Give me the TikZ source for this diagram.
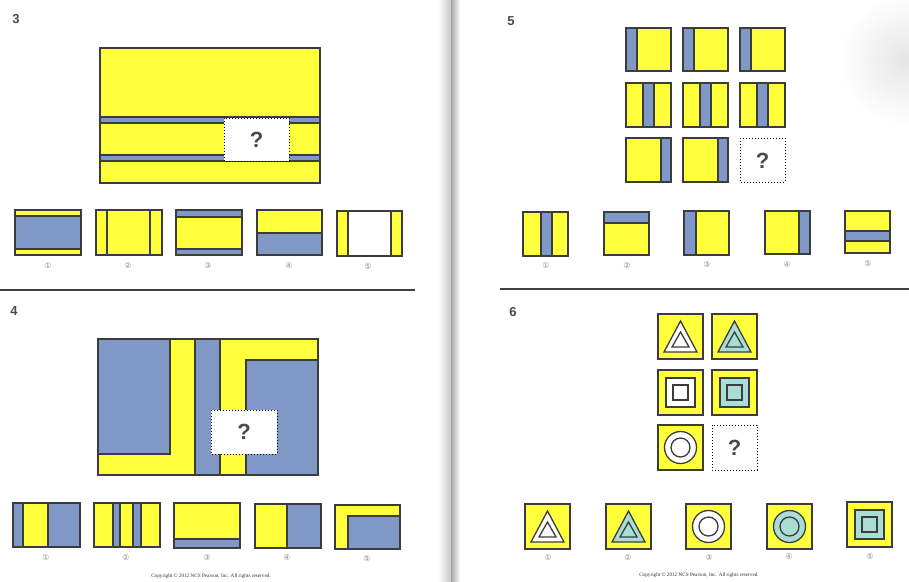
\documentclass[tikz,border=0pt]{standalone}
\usepackage{fontspec}
\setmainfont{Liberation Serif}
\newfontfamily\qfont{Liberation Sans}
\newfontfamily\symfont{DejaVu Sans}
\definecolor{py}{HTML}{FFFF3C}
\definecolor{pb}{HTML}{7F98C6}
\definecolor{pt}{HTML}{A8DED5}
\definecolor{edge}{HTML}{3C3C3C}
\definecolor{qgray}{HTML}{4A4A4A}
\tikzset{
  fig/.style={draw=edge, line width=1.3pt, line join=miter},
  yel/.style={fig, fill=py},
  blu/.style={fig, fill=pb},
  qbox/.style={draw=black, dotted, line width=1pt, fill=white},
  qmark/.style={font=\qfont\bfseries\fontsize{22}{22}\selectfont, text=qgray},
  optlabel/.style={font=\symfont\fontsize{8}{8}\selectfont, text=black!45},
  pnum/.style={font=\qfont\bfseries\fontsize{13}{13}\selectfont, text=qgray},
  copy/.style={font=\fontsize{5.2}{6}\selectfont, text=black!80},
  sepline/.style={draw=black!75, line width=1.6pt}
}
\begin{document}
\begin{tikzpicture}[x=1pt,y=-1pt]
\useasboundingbox (0,0) rectangle (909,581);
\fill[white] (0,0) rectangle (909,581);
% page gutter and scan shading
\shade[left color=white, right color=black!22] (438,0) rectangle (451,581);
\shade[left color=black!35, right color=white] (451,0) rectangle (460,581);
\shade[inner color=black!10, outer color=white] (905,60) circle (65);

% ---------------- Puzzle 3 ----------------
\node[pnum] (n3) at (16,19) {3};
\draw[yel] (100,48) rectangle (320,183);
\draw[blu] (100,117) rectangle (320,123);
\draw[blu] (100,155) rectangle (320,161);
\draw[fig] (100,48) rectangle (320,183);
\draw[qbox] (224,118) rectangle (289,161);
\node[qmark] (q3) at (256.5,140) {?};
% options
\draw[blu] (15,210) rectangle (81,255);
\draw[yel] (15,210) rectangle (81,216);
\draw[yel] (15,249) rectangle (81,255);
\draw[yel] (96,210) rectangle (162,255);
\draw[fig] (107,210) -- (107,255);
\draw[fig] (150,210) -- (150,255);
\draw[yel] (176,210) rectangle (242,255);
\draw[blu] (176,210) rectangle (242,217);
\draw[blu] (176,249) rectangle (242,255);
\draw[yel] (257,210) rectangle (322,255);
\draw[blu] (257,233) rectangle (322,255);
\draw[fig, fill=white] (337,211) rectangle (402,256);
\draw[yel] (337,211) rectangle (348,256);
\draw[yel] (391,211) rectangle (402,256);
\node[optlabel] (o31) at (48,266) {①};
\node[optlabel] (o32) at (128,266) {②};
\node[optlabel] (o33) at (208,266) {③};
\node[optlabel] (o34) at (289,266) {④};
\node[optlabel] (o35) at (368,267) {⑤};
\draw[sepline] (0,290) -- (415,290);

% ---------------- Puzzle 4 ----------------
\node[pnum] (n4) at (14,311) {4};
\draw[blu] (98,339) rectangle (318,475);
\draw[yel] (170,339) -- (195,339) -- (195,475) -- (98,475) -- (98,454) -- (170,454) -- cycle;
\draw[yel] (220,339) -- (318,339) -- (318,360) -- (246,360) -- (246,475) -- (220,475) -- cycle;
\draw[fig] (98,339) rectangle (318,475);
\draw[qbox] (211,410) rectangle (277,454);
\node[qmark] (q4) at (244,432) {?};
% options
\draw[blu] (13,503) rectangle (80,547);
\draw[yel] (23,503) rectangle (48,547);
\draw[yel] (94,503) rectangle (160,547);
\draw[blu] (113,503) rectangle (120,547);
\draw[blu] (133,503) rectangle (141,547);
\draw[yel] (174,503) rectangle (240,548);
\draw[blu] (174,539) rectangle (240,548);
\draw[blu] (255,504) rectangle (321,548);
\draw[yel] (255,504) rectangle (287,548);
\draw[blu] (335,505) rectangle (400,549);
\draw[yel] (335,505) -- (400,505) -- (400,516) -- (348,516) -- (348,549) -- (335,549) -- cycle;
\node[optlabel] (o41) at (46,558) {①};
\node[optlabel] (o42) at (126,558) {②};
\node[optlabel] (o43) at (207,558) {③};
\node[optlabel] (o44) at (287,558) {④};
\node[optlabel] (o45) at (367,559) {⑤};
\node[copy] (c4) at (211,576) {Copyright © 2012 NCS Pearson, Inc. All rights reserved.};

% ---------------- Puzzle 5 ----------------
\node[pnum] (n5) at (511,21) {5};
\foreach \x in {626,683,740} {
  \draw[yel] (\x,28) rectangle ++(45,43);
  \draw[blu] (\x,28) rectangle ++(11,43);
  \draw[yel] (\x,83) rectangle ++(45,44);
  \draw[blu] (\x+17,83) rectangle ++(11,44);
}
\foreach \x in {626,683} {
  \draw[yel] (\x,138) rectangle ++(45,44);
  \draw[blu] (\x+35,138) rectangle ++(10,44);
}
\draw[qbox] (740,138) rectangle (785,182);
\node[qmark] (q5) at (762.5,161) {?};
% options
\draw[yel] (523,212) rectangle (568,256);
\draw[blu] (541,212) rectangle (552,256);
\draw[yel] (604,212) rectangle (649,255);
\draw[blu] (604,212) rectangle (649,223);
\draw[yel] (684,211) rectangle (729,255);
\draw[blu] (684,211) rectangle (696,255);
\draw[yel] (765,211) rectangle (810,254);
\draw[blu] (799,211) rectangle (810,254);
\draw[yel] (845,211) rectangle (890,253);
\draw[blu] (845,231) rectangle (890,241);
\node[optlabel] (o51) at (546,266) {①};
\node[optlabel] (o52) at (627,266) {②};
\node[optlabel] (o53) at (707,265) {③};
\node[optlabel] (o54) at (787,265) {④};
\node[optlabel] (o55) at (868,264) {⑤};
\draw[sepline] (500,289) -- (909,289);

% ---------------- Puzzle 6 ----------------
\node[pnum] (n6) at (513,312) {6};
% triangles
\foreach \x/\y/\c in {658/314/white, 712/314/pt, 525/504/white, 606/504/pt} {
  \begin{scope}[shift={(\x,\y)}]
    \draw[yel] (0,0) rectangle (45,45);
    \draw[fig, fill=\c] (22.5,7) -- (39,38) -- (6,38) -- cycle;
    \draw[fig] (22.5,18) -- (31,33) -- (14,33) -- cycle;
  \end{scope}
}
% squares
\foreach \x/\y/\c in {658/370/white, 712/370/pt, 847/502/pt} {
  \begin{scope}[shift={(\x,\y)}]
    \draw[yel] (0,0) rectangle (45,45);
    \draw[fig, fill=\c] (8,8) rectangle (37,37);
    \draw[fig] (15,15) rectangle (30,30);
  \end{scope}
}
% circles
\foreach \x/\y/\c in {658/425/white, 686/504/white, 767/504/pt} {
  \begin{scope}[shift={(\x,\y)}]
    \draw[yel] (0,0) rectangle (45,45);
    \draw[fig, fill=\c] (22.5,22.5) circle (16);
    \draw[fig] (22.5,22.5) circle (9.5);
  \end{scope}
}
\draw[qbox] (712,425) rectangle (757,470);
\node[qmark] (q6) at (734.5,448) {?};
\node[optlabel] (o61) at (548,558) {①};
\node[optlabel] (o62) at (628,558) {②};
\node[optlabel] (o63) at (709,558) {③};
\node[optlabel] (o64) at (789,557) {④};
\node[optlabel] (o65) at (870,557) {⑤};
\node[copy] (c6) at (699,575) {Copyright © 2012 NCS Pearson, Inc. All rights reserved.};
\end{tikzpicture}
\end{document}
